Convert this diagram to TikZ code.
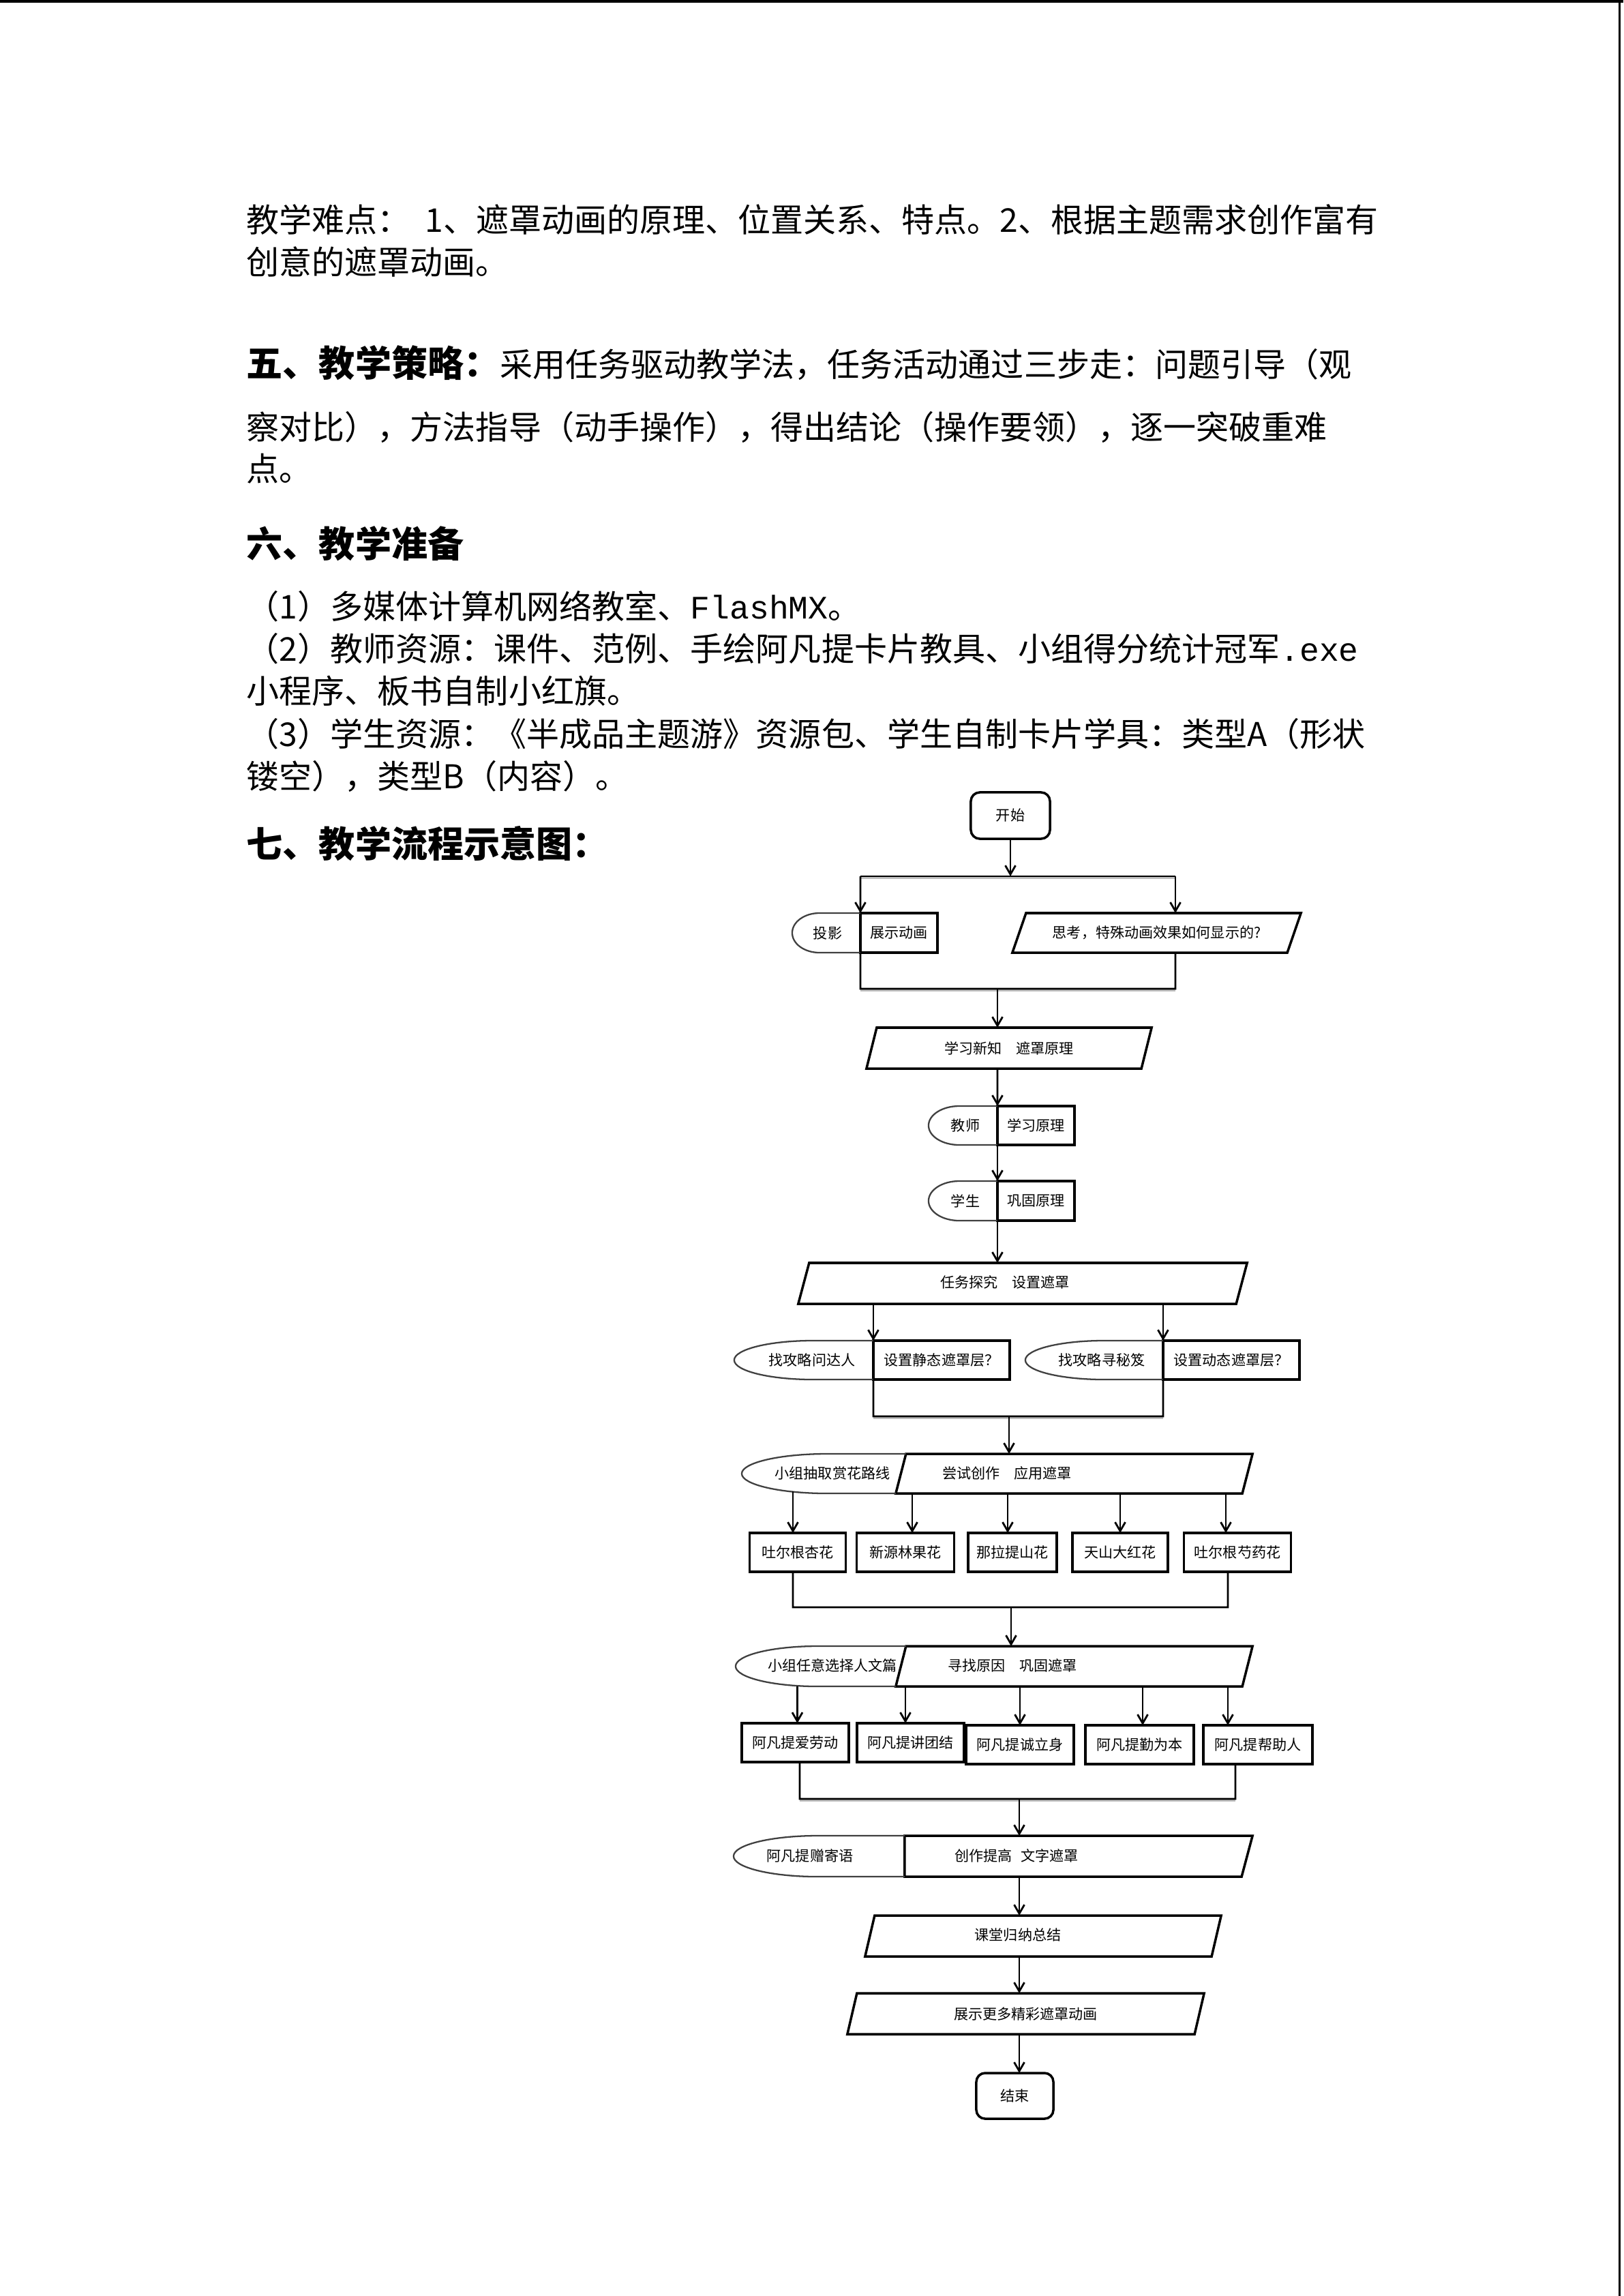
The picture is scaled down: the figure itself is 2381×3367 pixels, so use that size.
\documentclass[tikz,border=0pt]{standalone}
\usepackage{fontspec}
\setmainfont{Noto Sans CJK SC}
\newfontfamily\lmono{Liberation Mono}
\usetikzlibrary{arrows.meta}
\newcommand\ff{\fontsize{6pt}{7pt}\selectfont}
\newcommand\bodyf{\fontsize{13.66pt}{16pt}\selectfont}
\newcommand\headf{\fontsize{15.1pt}{18pt}\selectfont\bfseries}
\newcommand\paraout[2]{\draw[pline] ([xshift=#2]#1.north west) -- (#1.north east) -- ([xshift=-#2]#1.south east) -- (#1.south west) -- cycle;}
\tikzset{
  pline/.style={draw=black, line width=1.0pt},
  box/.style={draw=black, line width=1.0pt, rectangle, inner sep=0pt, outer sep=0pt, font=\ff},
  rbox/.style={box, rounded corners=0.13cm},
  shp/.style={rectangle, inner sep=0pt, outer sep=0pt, font=\ff},
  txt/.style={inner sep=0pt, font=\ff},
  conn/.style={line width=0.8pt, black},
  arr/.style={conn, -{Straight Barb[length=0.13cm,width=0.15cm]}},
  ellline/.style={draw=black!75, line width=0.65pt},
  shadowl/.style={line width=0.9pt, black!25},
  bodytxt/.style={anchor=west, inner sep=0pt, font=\bodyf},
  headtxt/.style={anchor=west, inner sep=0pt, font=\headf},
}
\begin{document}
\begin{tikzpicture}[x=0.01cm, y=-0.01cm]
\useasboundingbox (0,0) rectangle (2381,3367);
\fill[white] (0,0) rectangle (2381,3367);
% page frame
\fill[black] (0,0) rectangle (2381,4);
\fill[black] (2374,0) rectangle (2377,3367);

% ---------- body text ----------
\node[bodytxt] (l1) at (361,322) {教学难点：\ \ 1、遮罩动画的原理、位置关系、特点。2、根据主题需求创作富有};
\node[bodytxt] (l2) at (361,384) {创意的遮罩动画。};
\node[bodytxt] (l3) at (361,532) {{\headf 五、教学策略：}采用任务驱动教学法，任务活动通过三步走：问题引导（观};
\node[bodytxt] (l4) at (361,627) {察对比），方法指导（动手操作），得出结论（操作要领），逐一突破重难};
\node[bodytxt] (l5) at (361,687) {点。};
\node[headtxt] (l6) at (361,797) {六、教学准备};
\node[bodytxt] (l7) at (361,889) {（1）多媒体计算机网络教室、{\lmono FlashMX}。};
\node[bodytxt] (l8) at (361,951) {（2）教师资源：课件、范例、手绘阿凡提卡片教具、小组得分统计冠军{\lmono .exe}};
\node[bodytxt] (l9) at (361,1013) {小程序、板书自制小红旗。};
\node[bodytxt] (l10) at (361,1076) {（3）学生资源：《半成品主题游》资源包、学生自制卡片学具：类型A（形状};
\node[bodytxt] (l11) at (361,1138) {镂空），类型B（内容）。};
\node[headtxt] (l12) at (361,1237) {七、教学流程示意图：};

% ---------- flowchart ----------
\node[rbox, minimum width=1.16cm, minimum height=0.68cm] (start) at (1482,1196) {开始};
\coordinate (b1l) at (1262,1285);
\coordinate (b1r) at (1724,1285);
\draw[arr] (start.south) -- (start.south |- b1l);
\draw[shadowl] ([yshift=-0.022cm]b1l) -- ([yshift=-0.022cm]b1r);
\draw[conn] (b1l) -- (b1r);

% 投影 / 展示动画
\node[box, minimum width=1.13cm, minimum height=0.58cm] (zs) at (1318.5,1368) {展示动画};
\draw[ellline] (zs.north west) -- ++(-60,0) arc[start angle=90,end angle=270,x radius=0.40cm,y radius=0.29cm] -- (zs.south west);
\node[txt] (ty) at (1214,1368) {投影};
\draw[arr] (b1l) -- (zs.north west);

% 思考
\node[shp, minimum width=4.23cm, minimum height=0.58cm] (sk) at (1696.5,1368) {思考，特殊动画效果如何显示的?};
\paraout{sk}{0.2cm}
\draw[arr] (b1r) -- (b1r |- sk.north);

% merge 2
\coordinate (b2l) at (1262,1450);
\coordinate (b2r) at (1724,1450);
\coordinate (b2m) at (1463,1450);
\draw[shadowl] ([yshift=-0.022cm]b2l) -- ([yshift=-0.022cm]b2r);
\draw[conn] (zs.south west) -- (b2l) -- (b2r) -- (b2r |- sk.south);

% 学习新知
\node[shp, minimum width=4.18cm, minimum height=0.60cm] (xx) at (1480,1537) {学习新知\hspace{1em}遮罩原理};
\paraout{xx}{0.15cm}
\draw[arr] (b2m) -- (b2m |- xx.north);

% 教师 / 学习原理
\node[box, minimum width=1.13cm, minimum height=0.57cm] (xxyl) at (1519.5,1650.5) {学习原理};
\draw[ellline] (xxyl.north west) -- ++(-56,0) arc[start angle=90,end angle=270,x radius=0.45cm,y radius=0.285cm] -- (xxyl.south west);
\node[txt] (js) at (1416,1650.5) {教师};
\draw[arr] (b2m |- xx.south) -- (xxyl.north west);

% 学生 / 巩固原理
\node[box, minimum width=1.13cm, minimum height=0.58cm] (gg) at (1519.5,1761) {巩固原理};
\draw[ellline] (gg.north west) -- ++(-56,0) arc[start angle=90,end angle=270,x radius=0.45cm,y radius=0.29cm] -- (gg.south west);
\node[txt] (xs) at (1416,1761) {学生};
\draw[arr] (xxyl.south west) -- (gg.north west);

% 任务探究
\node[shp, minimum width=6.58cm, minimum height=0.60cm] (rw) at (1500,1882) {};
\paraout{rw}{0.16cm}
\node[txt] (rwt) at (1474,1880) {任务探究\hspace{1em}设置遮罩};
\draw[arr] (gg.south west) -- (gg.south west |- rw.north);

% 找攻略 groups
\node[box, minimum width=2.00cm, minimum height=0.57cm] (jt) at (1381,1994.5) {设置静态遮罩层？};
\draw[ellline] (jt.north west) -- ++(-89,0) arc[start angle=90,end angle=270,x radius=1.15cm,y radius=0.285cm] -- (jt.south west);
\node[txt] (gl1) at (1191,1994.5) {找攻略问达人};
\node[box, minimum width=2.00cm, minimum height=0.57cm] (dt) at (1806,1994.5) {设置动态遮罩层？};
\draw[ellline] (dt.north west) -- ++(-87,0) arc[start angle=90,end angle=270,x radius=1.15cm,y radius=0.285cm] -- (dt.south west);
\node[txt] (gl2) at (1616,1994.5) {找攻略寻秘笈};
\draw[arr] (jt.north west |- rw.south) -- (jt.north west);
\draw[arr] (dt.north west |- rw.south) -- (dt.north west);

% merge 3
\coordinate (b3l) at (1281,2077);
\coordinate (b3r) at (1706,2077);
\coordinate (b3m) at (1480,2077);
\draw[shadowl] ([yshift=-0.022cm]b3l) -- ([yshift=-0.022cm]b3r);
\draw[conn] (jt.south west) -- (b3l) -- (b3r) -- (dt.south west);

% 尝试创作
\node[shp, minimum width=5.23cm, minimum height=0.58cm] (cs) at (1575.5,2161) {};
\paraout{cs}{0.15cm}
\draw[ellline] ([xshift=0.15cm]cs.north west) -- (1213,2132) arc[start angle=90,end angle=270,x radius=1.25cm,y radius=0.29cm] -- (cs.south west);
\node[txt] (cst1) at (1221,2160) {小组抽取赏花路线};
\node[txt] (cst2) at (1477,2160) {尝试创作\hspace{1em}应用遮罩};
\draw[arr] (b3m) -- (b3m |- cs.north);

% flower boxes
\node[box, minimum width=1.41cm, minimum height=0.57cm] (f1) at (1170,2276.5) {吐尔根杏花};
\node[box, minimum width=1.43cm, minimum height=0.57cm] (f2) at (1328,2276.5) {新源林果花};
\node[box, minimum width=1.30cm, minimum height=0.57cm] (f3) at (1485,2276.5) {那拉提山花};
\node[box, minimum width=1.40cm, minimum height=0.57cm] (f4) at (1643,2276.5) {天山大红花};
\node[box, minimum width=1.57cm, minimum height=0.57cm] (f5) at (1815,2276.5) {吐尔根芍药花};
\coordinate (e1b) at (1163,2187);
\draw[arr] (e1b) -- (e1b |- f1.north);
\draw[arr] ([xshift=0.10cm]f2.north |- cs.south) -- ([xshift=0.10cm]f2.north);
\draw[arr] ([xshift=-0.07cm]f3.north |- cs.south) -- ([xshift=-0.07cm]f3.north);
\draw[arr] (f4.north |- cs.south) -- (f4.north);
\draw[arr] ([xshift=-0.17cm]f5.north |- cs.south) -- ([xshift=-0.17cm]f5.north);

% merge 4
\coordinate (b4l) at (1163,2357);
\coordinate (b4r) at (1801,2357);
\coordinate (b4m) at (1483,2357);
\draw[conn] ([xshift=-0.07cm]f1.south) -- (b4l) -- (b4r) -- ([xshift=-0.14cm]f5.south);

% 寻找原因
\node[shp, minimum width=5.23cm, minimum height=0.59cm] (xz) at (1575.5,2443.5) {};
\paraout{xz}{0.15cm}
\draw[ellline] ([xshift=0.15cm]xz.north west) -- (1199,2414) arc[start angle=90,end angle=270,x radius=1.20cm,y radius=0.295cm] -- (xz.south west);
\node[txt] (xzt1) at (1221,2442) {小组任意选择人文篇};
\node[txt] (xzt2) at (1485,2442) {寻找原因\hspace{1em}巩固遮罩};
\draw[arr] (b4m) -- (b4m |- xz.north);

% 阿凡提 boxes
\node[box, minimum width=1.57cm, minimum height=0.57cm] (a1) at (1166.5,2555.5) {阿凡提爱劳动};
\node[box, minimum width=1.57cm, minimum height=0.57cm] (a2) at (1335.5,2555.5) {阿凡提讲团结};
\node[box, minimum width=1.58cm, minimum height=0.57cm] (a3) at (1496,2558.5) {阿凡提诚立身};
\node[box, minimum width=1.59cm, minimum height=0.57cm] (a4) at (1671.5,2558.5) {阿凡提勤为本};
\node[box, minimum width=1.60cm, minimum height=0.57cm] (a5) at (1845,2558.5) {阿凡提帮助人};
\draw[arr] ([xshift=0.03cm]a1.north |- xz.south) -- ([xshift=0.03cm]a1.north);
\draw[arr] ([xshift=-0.075cm]a2.north |- xz.south) -- ([xshift=-0.075cm]a2.north);
\draw[arr] (a3.north |- xz.south) -- (a3.north);
\draw[arr] ([xshift=0.045cm]a4.north |- xz.south) -- ([xshift=0.045cm]a4.north);
\draw[arr] ([xshift=-0.44cm]a5.north |- xz.south) -- ([xshift=-0.44cm]a5.north);

% merge 5
\coordinate (b5l) at (1173,2638);
\coordinate (b5r) at (1812,2638);
\coordinate (b5m) at (1495,2638);
\draw[shadowl] ([yshift=-0.022cm]b5l) -- ([yshift=-0.022cm]b5r);
\draw[conn] ([xshift=0.065cm]a1.south) -- (b5l) -- (b5r) -- ([xshift=-0.33cm]a5.south);

% 创作提高
\node[shp, minimum width=5.10cm, minimum height=0.60cm] (cz) at (1582,2722) {};
\draw[pline] (cz.south west) -- (cz.north west) -- (cz.north east) -- ([xshift=-0.16cm]cz.south east) -- cycle;
\draw[ellline] (cz.north west) -- (1199,2692) arc[start angle=90,end angle=270,x radius=1.23cm,y radius=0.30cm] -- (cz.south west);
\node[txt] (czt1) at (1188,2721) {阿凡提赠寄语};
\node[txt] (czt2) at (1491,2721) {创作提高\hspace{0.6em}文字遮罩};
\draw[arr] (b5m) -- (b5m |- cz.north);

% 课堂归纳总结
\node[shp, minimum width=5.22cm, minimum height=0.60cm] (kt) at (1530,2839) {};
\paraout{kt}{0.14cm}
\node[txt] (ktt) at (1493,2837) {课堂归纳总结};
\draw[arr] (b5m |- cz.south) -- (b5m |- kt.north);

% 展示更多
\node[shp, minimum width=5.23cm, minimum height=0.60cm] (zsg) at (1504.5,2953) {展示更多精彩遮罩动画};
\paraout{zsg}{0.14cm}
\draw[arr] (b5m |- kt.south) -- (b5m |- zsg.north);

% 结束
\node[rbox, minimum width=1.13cm, minimum height=0.67cm] (end) at (1488.5,3073.5) {结束};
\draw[arr] (b5m |- zsg.south) -- (b5m |- end.north);
\end{tikzpicture}
\end{document}
